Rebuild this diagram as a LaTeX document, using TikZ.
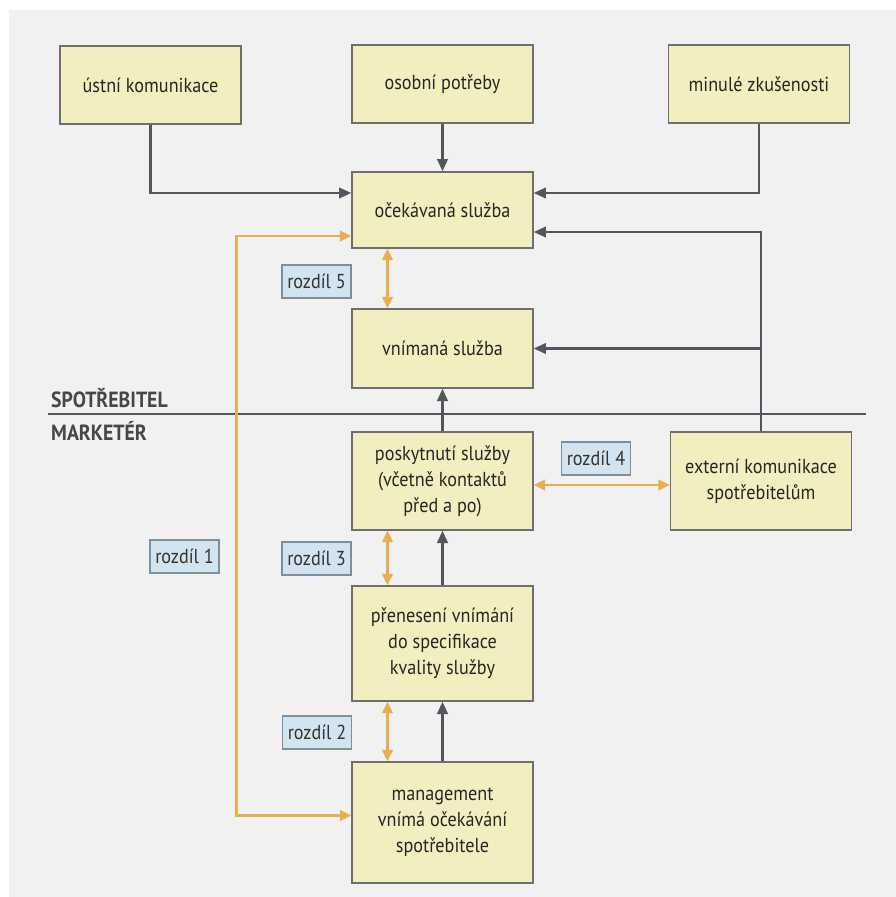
\documentclass[tikz,border=0pt]{standalone}
\usepackage{fontspec}
\setmainfont[FakeStretch=0.9]{PT Sans}
\usetikzlibrary{calc,arrows.meta}
\definecolor{boxfill}{HTML}{F2EEBF}
\definecolor{boxline}{HTML}{6E6E6E}
\definecolor{gapfill}{HTML}{D2E4EF}
\definecolor{gapline}{HTML}{7F8E99}
\definecolor{gold}{HTML}{E9AE4E}
\definecolor{ink}{HTML}{55555F}
\definecolor{paper}{HTML}{F1F1F1}

\begin{document}
\begin{tikzpicture}[x=0.02cm, y=-0.02cm,
		box/.style={draw=boxline, line width=0.8pt, fill=boxfill, minimum width=3.62cm, align=center, font=\fontsize{11.5}{14.8}\selectfont, text=black!85},
		gap/.style={draw=gapline, line width=0.8pt, fill=gapfill, minimum width=1.38cm, minimum height=0.66cm, inner sep=0pt, font=\fontsize{11.5}{12}\selectfont, text=black!80},
		arr/.style={draw=ink, line width=1.4pt, -{Triangle[length=7pt,width=6pt]}},
		garr/.style={draw=gold, line width=1.5pt, {Triangle[length=6.5pt,width=6pt]}-{Triangle[length=6.5pt,width=6pt]}},
		side/.style={anchor=west, font=\bfseries\fontsize{12.5}{14}\selectfont, text=black!72}]
			%%%%% START %%%%%
			
			\useasboundingbox (0, 0) rectangle (896, 897);
			\fill[white] (0, 0) rectangle (896, 897);
			\fill[paper] (9, 10) rectangle (896, 897);
			
			\node[box, minimum height=1.56cm] (ust) at (150.5, 85) {ústní komunikace};
			\node[box, minimum height=1.56cm] (osob) at (442.5, 84) {osobní potřeby};
			\node[box, minimum height=1.56cm] (min) at (759, 84) {minulé zkušenosti};
			
			\node[box, minimum height=1.52cm] (ocek) at (442.5, 210) {očekávaná služba};
			\node[box, minimum height=1.58cm] (vnim) at (442.5, 348.5) {vnímaná služba};
			
			\node[box, minimum height=1.96cm] (posk) at (442.5, 481) {poskytnutí služby\\(včetně kontaktů\\před a po)};
			\node[box, minimum height=1.96cm] (ext) at (761, 481) {externí komunikace\\spotřebitelům};
			\node[box, minimum height=2.30cm] (pren) at (442.5, 643.5) {přenesení vnímání\\do specifikace\\kvality služby};
			\node[box, minimum height=2.42cm] (man) at (442.5, 822.5) {management\\vnímá očekávání\\spotřebitele};
			
			\node[gap] (r5) at (316.5, 281.5) {rozdíl 5};
			\node[gap] (r4) at (596, 458.5) {rozdíl 4};
			\node[gap] (r1) at (184.5, 556.5) {rozdíl 1};
			\node[gap] (r3) at (316.5, 558.5) {rozdíl 3};
			\node[gap] (r2) at (317, 732.5) {rozdíl 2};
			
			\draw[draw=ink, line width=1pt] (48, 414) -- (866, 414);
			\node[side] (spot) at (45, 398) {SPOTŘEBITEL};
			\node[side] (mark) at (45, 431) {MARKETÉR};
			
			\draw[arr] (ust.south) |- ($(ocek.west)+(0,-17)$);
			\draw[arr] (osob.south) -- (ocek.north);
			\draw[arr] (min.south) |- ($(ocek.east)+(0,-17)$);
			\draw[arr] (ext.north) |- ($(ocek.east)+(0,22)$);
			\draw[arr] (ext.north) |- (vnim.east);
			\draw[arr] (posk.north) -- (vnim.south);
			\draw[arr] (pren.north) -- (posk.south);
			\draw[arr] (man.north) -- (pren.south);
			
			\draw[garr] ($(ocek.south)+(-55,0)$) -- ($(vnim.north)+(-55,0)$);
			\draw[garr] ($(posk.south)+(-55,0)$) -- ($(pren.north)+(-55,0)$);
			\draw[garr] ($(pren.south)+(-55,0)$) -- ($(man.north)+(-55,0)$);
			\draw[garr] ($(posk.east)+(0,4)$) -- ($(ext.west)+(0,4)$);
			\draw[garr] ($(man.west)+(0,-7)$) -- ++(-115, 0) |- ($(ocek.west)+(0,26)$);
			
			%%%%% END %%%%%
		\end{tikzpicture}
\end{document}
